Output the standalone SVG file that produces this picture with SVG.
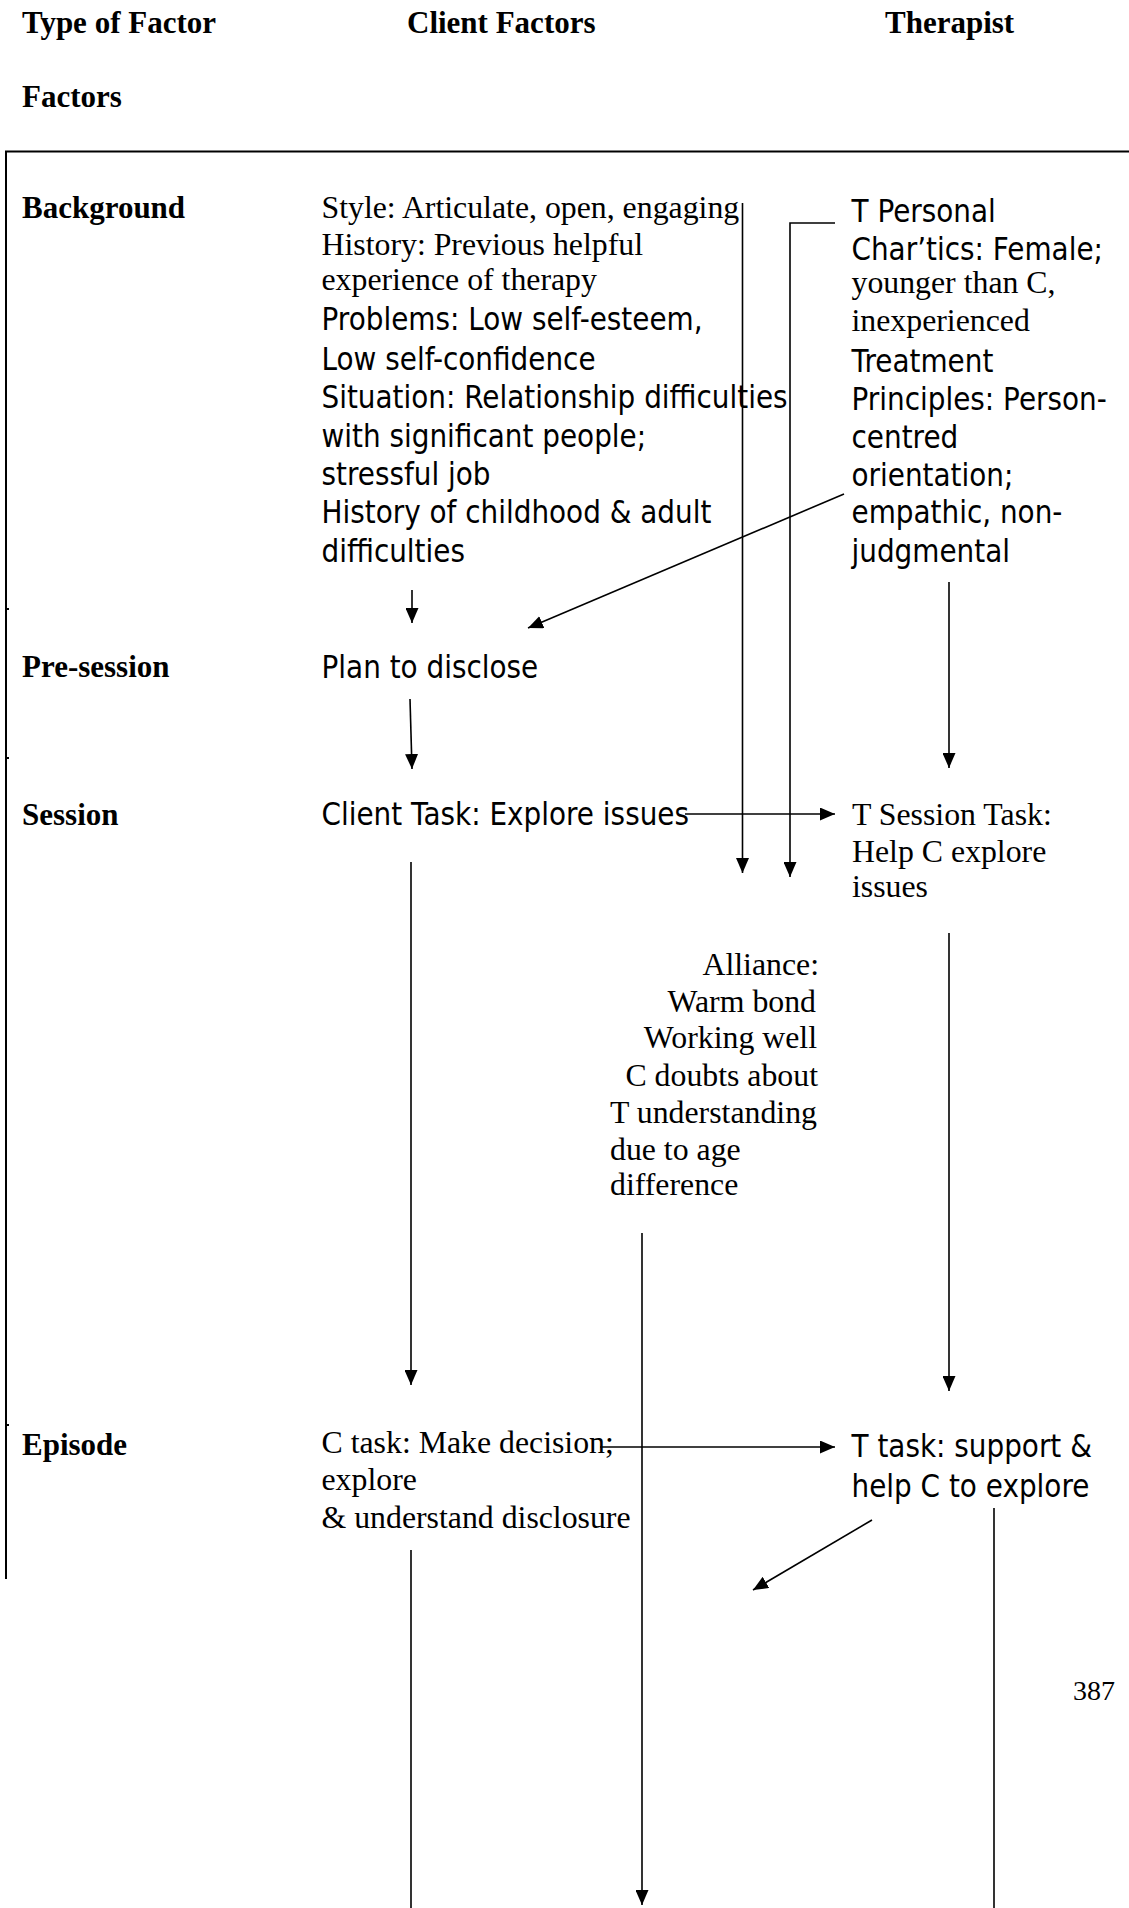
<svg xmlns="http://www.w3.org/2000/svg" width="1129" height="1908" viewBox="0 0 1129 1908">
  <style>
    text { fill: #000; }
    .hd { font-family: "Liberation Serif", "Times New Roman", serif; font-weight: bold; font-size: 31px; }
    .tm { font-family: "Liberation Serif", "Times New Roman", serif; font-size: 31.8px; }
    .sn { font-family: "DejaVu Sans", Verdana, sans-serif; font-size: 31.5px; }
    .pg { font-family: "Liberation Serif", "Times New Roman", serif; font-size: 28px; }
    .frame { stroke: #000; stroke-width: 2; fill: none; }
    .conn { stroke: #000; stroke-width: 1.6; fill: none; }
    .arr { marker-end: url(#head); }
  </style>
  <defs>
    <marker id="head" markerUnits="userSpaceOnUse" markerWidth="15" markerHeight="13" refX="15" refY="6.5" orient="auto">
      <path d="M0,0 L15,6.5 L0,13 z" fill="#000"/>
    </marker>
  </defs>

  <rect x="0" y="0" width="1129" height="1908" fill="#fff"/>

  <!-- column headings -->
  <g id="header">
    <text class="hd" x="22" y="33">Type of Factor</text>
    <text class="hd" x="407" y="33">Client Factors</text>
    <text class="hd" x="885" y="33">Therapist</text>
    <text class="hd" x="22" y="107">Factors</text>
  </g>

  <!-- table frame -->
  <g id="frame">
    <path class="frame" d="M5,151.5 H1129"/>
    <path class="frame" d="M6,151 V1579"/>
    <path class="frame" d="M6,609 H9 M6,758 H9 M6,1425 H9"/>
  </g>

  <!-- row labels -->
  <g id="row-background"><text class="hd" x="22" y="218">Background</text></g>
  <g id="row-presession"><text class="hd" x="22" y="677">Pre-session</text></g>
  <g id="row-session"><text class="hd" x="22" y="825">Session</text></g>
  <g id="row-episode"><text class="hd" x="22" y="1455">Episode</text></g>

  <!-- client background -->
  <g id="client-background">
    <text class="tm" x="321.5" y="218">Style: Articulate, open, engaging</text>
    <text class="tm" x="321.5" y="255">History: Previous helpful</text>
    <text class="tm" x="321.5" y="290">experience of therapy</text>
    <g class="sn" transform="translate(321.5,0) scale(0.885,1)">
      <text x="0" y="330">Problems: Low self-esteem,</text>
      <text x="0" y="370">Low self-confidence</text>
      <text x="0" y="408">Situation: Relationship difficulties</text>
      <text x="0" y="447">with significant people;</text>
      <text x="0" y="485">stressful job</text>
      <text x="0" y="523">History of childhood &amp; adult</text>
      <text x="0" y="562">difficulties</text>
    </g>
  </g>

  <!-- therapist background -->
  <g id="therapist-background">
    <g class="sn" transform="translate(851.5,0) scale(0.885,1)">
      <text x="0" y="222">T Personal</text>
      <text x="0" y="260">Char’tics: Female;</text>
    </g>
    <text class="tm" x="851.5" y="293">younger than C,</text>
    <text class="tm" x="851.5" y="331">inexperienced</text>
    <g class="sn" transform="translate(851.5,0) scale(0.885,1)">
      <text x="0" y="372">Treatment</text>
      <text x="0" y="410">Principles: Person-</text>
      <text x="0" y="448">centred</text>
      <text x="0" y="486">orientation;</text>
      <text x="0" y="523">empathic, non-</text>
      <text x="0" y="562">judgmental</text>
    </g>
  </g>

  <!-- pre-session -->
  <g id="client-presession">
    <g class="sn" transform="translate(321.5,0) scale(0.885,1)">
      <text x="0" y="678">Plan to disclose</text>
    </g>
  </g>

  <!-- session -->
  <g id="client-session">
    <g class="sn" transform="translate(321.5,0) scale(0.885,1)">
      <text x="0" y="825">Client Task: Explore issues</text>
    </g>
  </g>
  <g id="therapist-session">
    <text class="tm" x="852" y="825">T Session Task:</text>
    <text class="tm" x="852" y="862">Help C explore</text>
    <text class="tm" x="852" y="897">issues</text>
  </g>

  <!-- alliance -->
  <g id="alliance">
    <text class="tm" x="819" y="975" text-anchor="end">Alliance:</text>
    <text class="tm" x="816" y="1012" text-anchor="end">Warm bond</text>
    <text class="tm" x="817" y="1048" text-anchor="end">Working well</text>
    <text class="tm" x="818" y="1086" text-anchor="end">C doubts about</text>
    <text class="tm" x="610" y="1123">T understanding</text>
    <text class="tm" x="610" y="1160">due to age</text>
    <text class="tm" x="610" y="1195">difference</text>
  </g>

  <!-- episode -->
  <g id="client-episode">
    <text class="tm" x="321.5" y="1453">C task: Make decision;</text>
    <text class="tm" x="321.5" y="1490">explore</text>
    <text class="tm" x="321.5" y="1528">&amp; understand disclosure</text>
  </g>
  <g id="therapist-episode">
    <g class="sn" transform="translate(851.5,0) scale(0.885,1)">
      <text x="0" y="1457">T task: support &amp;</text>
      <text x="0" y="1497">help C to explore</text>
    </g>
  </g>

  <g id="page-number"><text class="pg" x="1073" y="1700">387</text></g>

  <!-- connectors -->
  <g id="connectors">
    <path class="conn arr" d="M412,590 V623"/>
    <path class="conn arr" d="M844,494 L528,628"/>
    <path class="conn arr" d="M410,699 L412,769"/>
    <path class="conn arr" d="M949,582 V768"/>
    <path class="conn arr" d="M742.5,203 V873"/>
    <path class="conn arr" d="M835,223 H790 V877"/>
    <path class="conn arr" d="M685,814 H835"/>
    <path class="conn arr" d="M411,862 V1385"/>
    <path class="conn arr" d="M949,933 V1391"/>
    <path class="conn arr" d="M600,1447 H835"/>
    <path class="conn arr" d="M872,1520 L753,1590"/>
    <path class="conn" d="M411,1550 V1908"/>
    <path class="conn arr" d="M642,1233 V1905"/>
    <path class="conn" d="M994,1508 V1908"/>
  </g>
</svg>
